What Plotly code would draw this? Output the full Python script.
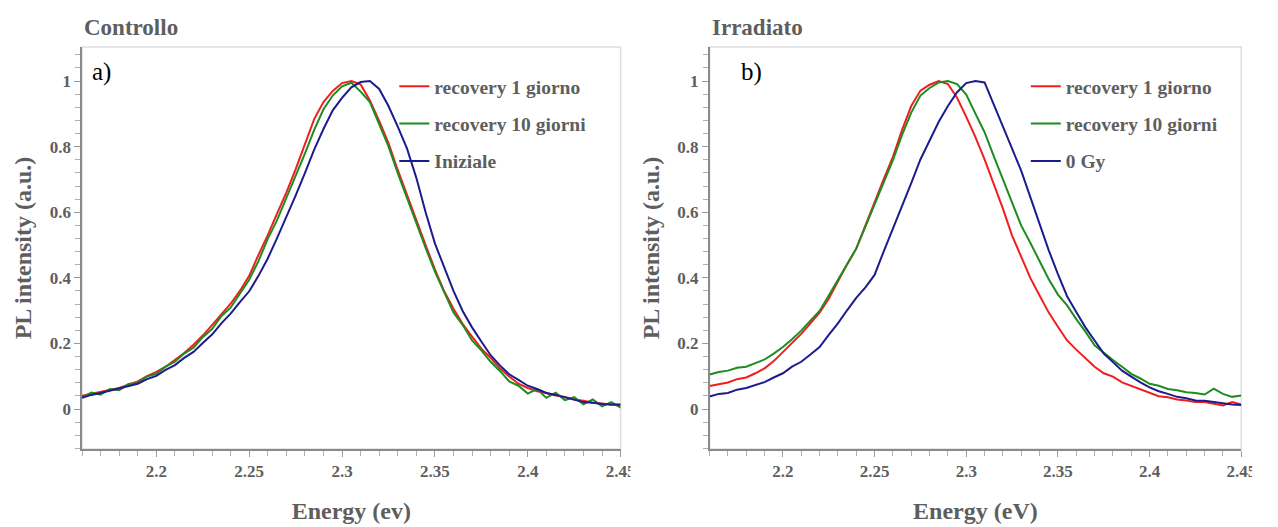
import plotly.graph_objects as go

# ---------------- data ----------------
energy = [round(2.16 + 0.005 * i, 3) for i in range(59)]

ctrl_rec1 = [0.040, 0.046, 0.051, 0.059, 0.064, 0.074, 0.084, 0.100, 0.113, 0.129,
             0.151, 0.171, 0.196, 0.224, 0.256, 0.287, 0.321, 0.360, 0.406, 0.470,
             0.530, 0.596, 0.660, 0.731, 0.810, 0.884, 0.936, 0.970, 0.994, 1.000,
             0.990, 0.941, 0.879, 0.811, 0.729, 0.651, 0.574, 0.500, 0.426, 0.359,
             0.306, 0.259, 0.221, 0.184, 0.156, 0.124, 0.099, 0.077, 0.064, 0.054,
             0.049, 0.041, 0.037, 0.029, 0.025, 0.019, 0.017, 0.013, 0.014]
ctrl_rec10 = [0.035, 0.050, 0.044, 0.061, 0.057, 0.076, 0.079, 0.099, 0.107, 0.129,
              0.144, 0.169, 0.187, 0.219, 0.244, 0.283, 0.309, 0.353, 0.394, 0.451,
              0.519, 0.576, 0.644, 0.706, 0.779, 0.851, 0.914, 0.956, 0.984, 0.995,
              0.968, 0.936, 0.869, 0.801, 0.719, 0.641, 0.564, 0.491, 0.419, 0.356,
              0.294, 0.256, 0.209, 0.179, 0.144, 0.116, 0.084, 0.071, 0.047, 0.061,
              0.034, 0.050, 0.027, 0.036, 0.014, 0.029, 0.008, 0.021, 0.004]
ctrl_init = [0.034, 0.043, 0.049, 0.056, 0.061, 0.069, 0.077, 0.091, 0.101, 0.119,
             0.134, 0.156, 0.174, 0.201, 0.227, 0.261, 0.291, 0.326, 0.359, 0.406,
             0.459, 0.521, 0.584, 0.651, 0.719, 0.791, 0.854, 0.911, 0.949, 0.981,
             0.997, 1.000, 0.976, 0.924, 0.861, 0.794, 0.705, 0.600, 0.505, 0.430,
             0.360, 0.298, 0.249, 0.206, 0.164, 0.133, 0.106, 0.089, 0.071, 0.061,
             0.049, 0.043, 0.035, 0.029, 0.021, 0.019, 0.015, 0.014, 0.013]

irr_rec1 = [0.070, 0.076, 0.081, 0.091, 0.096, 0.109, 0.124, 0.146, 0.174, 0.201,
            0.229, 0.261, 0.294, 0.336, 0.389, 0.441, 0.489, 0.561, 0.629, 0.701,
            0.769, 0.851, 0.924, 0.971, 0.989, 1.000, 0.991, 0.949, 0.891, 0.829,
            0.761, 0.689, 0.611, 0.529, 0.461, 0.399, 0.346, 0.294, 0.251, 0.209,
            0.181, 0.154, 0.129, 0.109, 0.099, 0.081, 0.071, 0.059, 0.051, 0.039,
            0.036, 0.029, 0.026, 0.021, 0.021, 0.017, 0.011, 0.021, 0.014]
irr_rec10 = [0.105, 0.113, 0.117, 0.126, 0.129, 0.141, 0.151, 0.169, 0.189, 0.213,
             0.239, 0.269, 0.299, 0.346, 0.394, 0.441, 0.489, 0.556, 0.624, 0.696,
             0.759, 0.836, 0.904, 0.956, 0.979, 0.996, 1.000, 0.991, 0.959, 0.901,
             0.844, 0.771, 0.699, 0.626, 0.559, 0.506, 0.449, 0.396, 0.349, 0.316,
             0.274, 0.236, 0.194, 0.171, 0.149, 0.129, 0.107, 0.093, 0.077, 0.071,
             0.061, 0.057, 0.051, 0.049, 0.044, 0.062, 0.046, 0.037, 0.041]
irr_0gy = [0.038, 0.046, 0.049, 0.059, 0.064, 0.074, 0.082, 0.096, 0.109, 0.129,
           0.144, 0.166, 0.189, 0.226, 0.261, 0.301, 0.339, 0.371, 0.409, 0.481,
           0.549, 0.621, 0.689, 0.761, 0.819, 0.876, 0.924, 0.966, 0.994, 1.000,
           0.996, 0.929, 0.866, 0.794, 0.726, 0.644, 0.566, 0.484, 0.411, 0.344,
           0.296, 0.249, 0.209, 0.169, 0.143, 0.117, 0.099, 0.081, 0.066, 0.054,
           0.046, 0.037, 0.033, 0.026, 0.025, 0.021, 0.019, 0.014, 0.012]

x_tickvals = [2.2, 2.25, 2.3, 2.35, 2.4, 2.45]
x_ticktext = ["2.2", "2.25", "2.3", "2.35", "2.4", "2.45"]
y_tickvals = [0, 0.2, 0.4, 0.6, 0.8, 1]
y_ticktext = ["0", "0.2", "0.4", "0.6", "0.8", "1"]

# ---------------- style ----------------
W, H = 1278, 527
RED, GREEN, BLUE = "#f01e1e", "#1e8c1e", "#1c1c8c"
GRAY = "#5e5e5e"
SERIF = "Liberation Serif, Times New Roman, serif"

fig = go.Figure()

def add(x, y, name, color, xa, ya, leg, grp):
    fig.add_trace(go.Scatter(x=x, y=y, name=name, mode="lines",
                             line=dict(color=color, width=2),
                             xaxis=xa, yaxis=ya, legend=leg, legendgroup=grp))

add(energy, ctrl_rec1, "recovery 1 giorno", RED, "x", "y", "legend", "a1")
add(energy, ctrl_rec10, "recovery 10 giorni", GREEN, "x", "y", "legend", "a2")
add(energy, ctrl_init, "Iniziale", BLUE, "x", "y", "legend", "a3")
add(energy, irr_rec1, "recovery 1 giorno", RED, "x2", "y2", "legend2", "b1")
add(energy, irr_rec10, "recovery 10 giorni", GREEN, "x2", "y2", "legend2", "b2")
add(energy, irr_0gy, "0 Gy", BLUE, "x2", "y2", "legend2", "b3")

L0, L1 = 83, 628
R0, R1 = 718, 1256
xdomL = [L0 / W, L1 / W]
xdomR = [R0 / W, R1 / W]
ydom = [1 - 449 / H, 1 - 47 / H]

def xaxis(dom, anchor, title):
    return dict(domain=dom, anchor=anchor, range=[2.16, 2.45],
                tickmode="array", tickvals=x_tickvals, ticktext=x_ticktext,
                ticks="outside", ticklen=6, tickcolor="#9a9a9a", tickwidth=1,
                minor=dict(dtick=0.01, tick0=2.2, ticks="outside", ticklen=5,
                           tickcolor="#b0b0b0"),
                showline=True, linecolor="#8a8a8a", linewidth=1.5,
                showgrid=False, zeroline=False,
                tickfont=dict(family=SERIF, size=17, color=GRAY, weight="bold"),
                title=dict(text=title, standoff=22,
                           font=dict(family=SERIF, size=24, color=GRAY, weight="bold")))

def yaxis(anchor):
    return dict(domain=ydom, anchor=anchor, range=[-0.122, 1.104],
                tickmode="array", tickvals=y_tickvals, ticktext=y_ticktext,
                ticks="outside", ticklen=6, tickcolor="#9a9a9a", tickwidth=1,
                minor=dict(dtick=0.04, tick0=0, ticks="outside", ticklen=5,
                           tickcolor="#b0b0b0"),
                showline=True, linecolor="#8a8a8a", linewidth=1.5,
                showgrid=False, zeroline=False,
                tickfont=dict(family=SERIF, size=17, color=GRAY, weight="bold"),
                title=dict(text="PL intensity (a.u.)", standoff=11,
                           font=dict(family=SERIF, size=24, color=GRAY, weight="bold")))

legfont = dict(family=SERIF, size=19.5, color=GRAY, weight="bold")

fig.update_layout(
    width=W, height=H,
    margin=dict(l=0, r=0, t=0, b=0),
    paper_bgcolor="white", plot_bgcolor="white",
    xaxis=xaxis(xdomL, "y", "Energy (ev)"),
    yaxis=yaxis("x"),
    xaxis2=xaxis(xdomR, "y2", "Energy (eV)"),
    yaxis2=yaxis("x2"),
    legend=dict(x=(L0 + 316) / W, y=1 - 67 / H, xanchor="left", yanchor="top",
                bgcolor="rgba(0,0,0,0)", font=legfont, tracegroupgap=9,
                itemwidth=30),
    legend2=dict(x=(R0 + 320) / W, y=1 - 67 / H, xanchor="left", yanchor="top",
                 bgcolor="rgba(0,0,0,0)", font=legfont, tracegroupgap=9,
                 itemwidth=30),
    showlegend=True,
)

# light frame on top/right of each plotting area
for xr, yr in (("x domain", "y domain"), ("x2 domain", "y2 domain")):
    fig.add_shape(type="rect", xref=xr, yref=yr, x0=0, x1=1, y0=0, y1=1,
                  line=dict(color="#dedede", width=1.5), layer="below")

# the last tick label of each panel is cut off in the original
for x0, x1 in ((638, 700), (1267, 1278)):
    fig.add_shape(type="rect", xref="paper", yref="paper",
                  x0=x0 / W, x1=x1 / W, y0=1 - 490 / H, y1=1 - 456 / H,
                  line=dict(width=0), fillcolor="white", layer="above")

for txt, xp in (("Controllo", L0), ("Irradiato", R0)):
    fig.add_annotation(text=txt, x=xp / W, y=1 - 27 / H, xref="paper", yref="paper",
                       xanchor="left", yanchor="middle", showarrow=False,
                       font=dict(family=SERIF, size=23, color=GRAY, weight="bold"))

for txt, xp in (("a)", L0 + 8), ("b)", R0 + 30)):
    fig.add_annotation(text=txt, x=xp / W, y=1 - 72 / H, xref="paper", yref="paper",
                       xanchor="left", yanchor="middle", showarrow=False,
                       font=dict(family=SERIF, size=25, color="black"))

fig.write_html("out.html")
